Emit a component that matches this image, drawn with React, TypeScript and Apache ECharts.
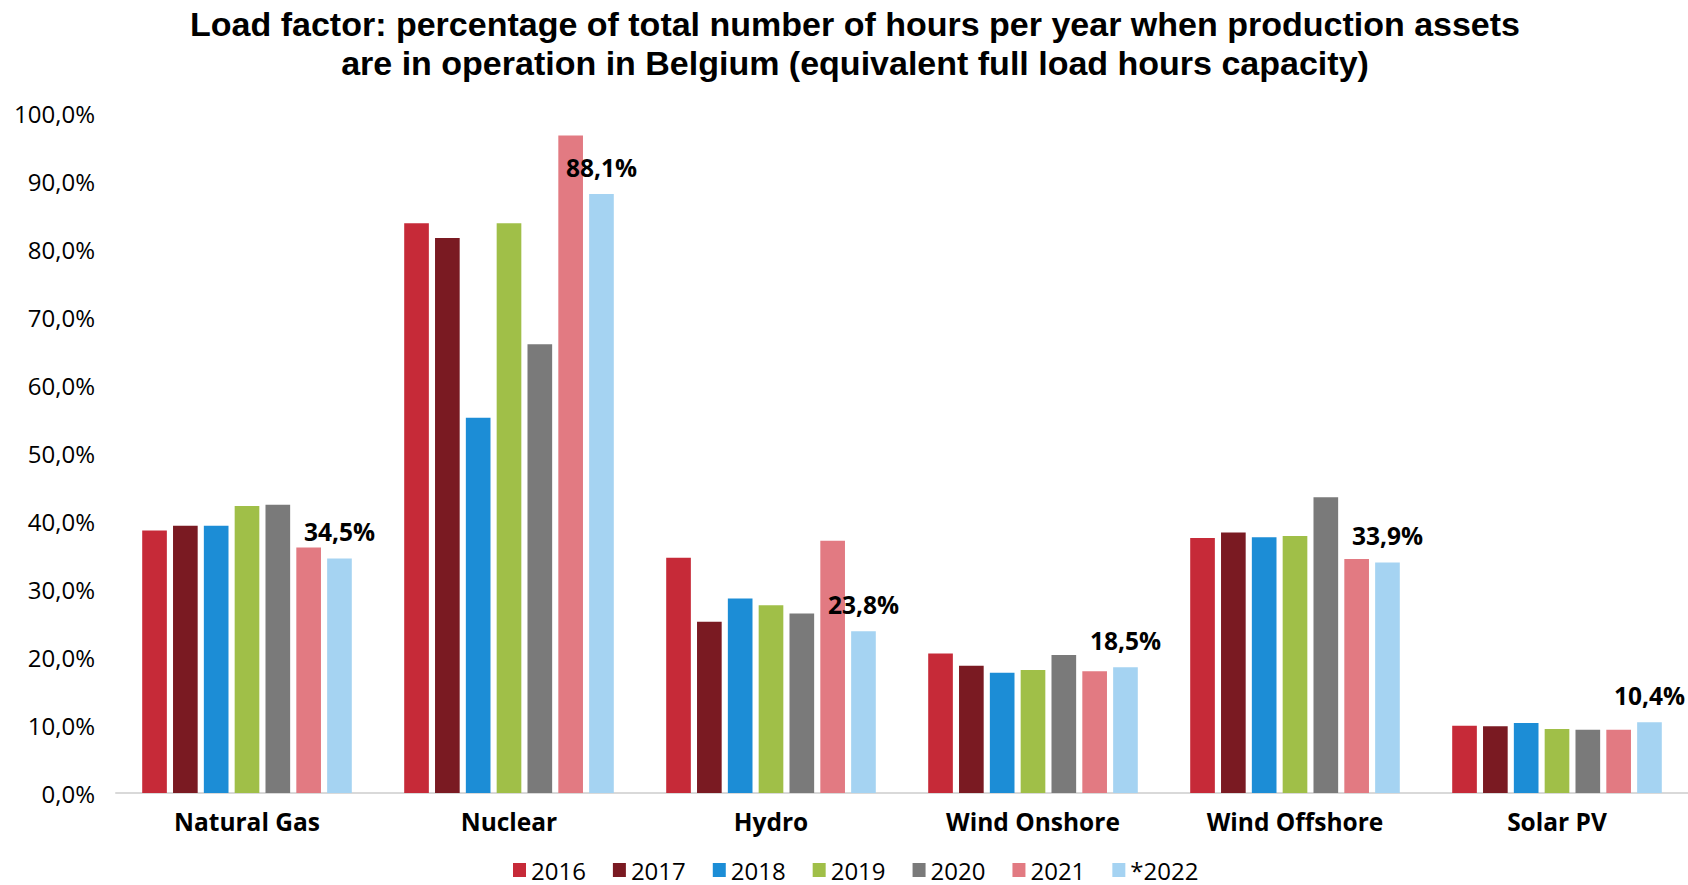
import React, { useEffect, useRef } from "react";
import * as echarts from "echarts";

const categories = ["Natural Gas", "Nuclear", "Hydro", "Wind Onshore", "Wind Offshore", "Solar PV"];
const years = ["2016", "2017", "2018", "2019", "2020", "2021", "*2022"];
const colors = ["#C62A38", "#7A1A22", "#1C8DD6", "#A0BF48", "#7A7A7A", "#E27A82", "#A5D3F2"];

const v2016 = [38.6, 83.8, 34.6, 20.5, 37.5, 9.9];
const v2017 = [39.3, 81.6, 25.2, 18.7, 38.3, 9.8];
const v2018 = [39.3, 55.2, 28.6, 17.7, 37.6, 10.3];
const v2019 = [42.2, 83.8, 27.6, 18.1, 37.8, 9.4];
const v2020 = [42.4, 66.0, 26.4, 20.3, 43.5, 9.3];
const v2021 = [36.1, 96.7, 37.1, 17.9, 34.4, 9.3];
const v2022 = [34.5, 88.1, 23.8, 18.5, 33.9, 10.4];

const seriesValues = [v2016, v2017, v2018, v2019, v2020, v2021, v2022];

const titleLine1 = "Load factor: percentage of total number of hours per year when production assets";
const titleLine2 = "are in operation in Belgium (equivalent full load hours capacity)";

const FONT = "'Open Sans', 'Noto Sans', sans-serif";
const TITLE_FONT = "'Liberation Sans', Arial, sans-serif";

const fmt = (v: number) => v.toFixed(1).replace(".", ",") + "%";

export default function App() {
  const ref = useRef<HTMLDivElement>(null);
  useEffect(() => {
    if (!ref.current) return;
    const chart = echarts.init(ref.current, undefined, { renderer: "svg" });
    const series = seriesValues.map((vals, i) => ({
      name: years[i],
      type: "bar",
      data: vals,
      itemStyle: { color: colors[i] },
      barGap: "25%",
      barCategoryGap: "20%",
      label:
        i === seriesValues.length - 1
          ? {
              show: true,
              position: "top",
              distance: 14,
              formatter: (p: any) => fmt(p.value),
              fontFamily: FONT,
              fontWeight: "bold",
              fontSize: 24.5,
              color: "#000",
            }
          : { show: false },
    }));
    chart.setOption({
      animation: false,
      backgroundColor: "#fff",
      textStyle: { fontFamily: FONT },
      graphic: [
        {
          type: "text",
          x: 855,
          y: 23.5,
          style: {
            text: titleLine1,
            textAlign: "center",
            textVerticalAlign: "middle",
            font: `bold 34px ${TITLE_FONT}`,
            lineHeight: 37,
            fill: "#000",
          },
        },
        {
          type: "text",
          x: 855,
          y: 62.5,
          style: {
            text: titleLine2,
            textAlign: "center",
            textVerticalAlign: "middle",
            font: `bold 34px ${TITLE_FONT}`,
            lineHeight: 37,
            fill: "#000",
          },
        },
      ],
      legend: {
        data: years,
        left: 513,
        top: 857,
        itemWidth: 13,
        itemHeight: 14,
        itemGap: 27,
        icon: "rect",
        padding: 0,
        textStyle: {
          fontFamily: FONT,
          fontSize: 24,
          lineHeight: 26,
          color: "#000",
          padding: [0, 0, 0, 0],
        },
      },
      grid: { left: 116, right: 0, top: 113, bottom: 92, containLabel: false },
      xAxis: {
        type: "category",
        data: categories,
        axisLine: { show: true, lineStyle: { color: "#D9D9D9", width: 2 } },
        axisTick: { show: false },
        axisLabel: {
          fontFamily: FONT,
          fontWeight: "bold",
          fontSize: 24.5,
          color: "#000",
          margin: 16,
        },
      },
      yAxis: {
        type: "value",
        min: 0,
        max: 100,
        interval: 10,
        splitLine: { show: false },
        axisLine: { show: false },
        axisTick: { show: false },
        axisLabel: {
          formatter: (v: number) => fmt(v),
          fontFamily: FONT,
          fontSize: 24,
          color: "#000",
          margin: 21,
        },
      },
      series,
    });
    return () => chart.dispose();
  }, []);
  return (
    <div
      ref={ref}
      style={{ position: "absolute", left: 0, top: 0, width: 1688, height: 885 }}
    />
  );
}
